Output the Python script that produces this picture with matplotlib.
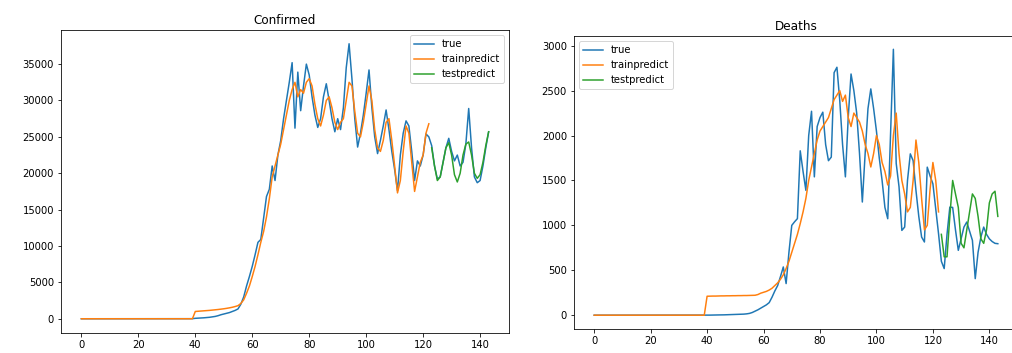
import numpy as np
import matplotlib
matplotlib.use("Agg")
import matplotlib.pyplot as plt

# ---- confirmed ----
conf_true = [0, 0, 1, 0, 0, 0, 1, 0, 0, 0, 0, 1, 0, 0, 0, 0, 0, 0, 0, 0,
             0, 1, 0, 0, 0, 0, 0, 0, 0, 0, 0, 0, 0, 0, 0, 0, 0, 0, 5, 10,
             60, 80, 100, 130, 160, 200, 260, 320, 420, 550,
             650, 750, 850, 1000, 1150, 1350, 2000, 3000, 4500, 5800,
             7200, 8800, 10500, 10900, 13800, 16800, 17800, 21000, 19000, 22500,
             24500, 27500, 30000, 32500, 35200, 26200, 33900, 28600, 32000, 35000,
             33500, 30500, 28000, 26300, 27500, 30500, 32300, 30000, 27500, 25700,
             27500, 26000, 29000, 34500, 37800, 33000, 27500, 23600, 25500, 28000,
             31000, 34200, 29000, 25000, 22700, 24500, 26500, 28700, 26000, 23000,
             20500, 17600, 22500, 25500, 27200, 26500, 23000, 19000, 21700, 21000,
             22500, 25400, 25000, 23800, 21000, 19200, 19500, 21500, 23500, 24800,
             23000, 21700, 22500, 21000, 21500, 24000, 28900, 23500, 19500, 18700,
             19000, 21000, 23500, 25700]

conf_train = [0] * 40 + [
    1000, 1030, 1060, 1090, 1120, 1150, 1190, 1230, 1270, 1320,
    1370, 1430, 1500, 1580, 1680, 1800, 2100, 2600, 3500, 4500,
    5800, 7200, 8800, 10500, 12000, 14000, 16500, 19500, 21000, 22500,
    24000, 26000, 28000, 30000, 31500, 32500, 30500, 31500, 31000, 32500,
    33000, 32000, 29500, 27500, 26500, 28000, 30000, 30500, 29000, 27000,
    26000, 27000, 27500, 30000, 32500, 32000, 28500, 25500, 25000, 27000,
    29500, 32000, 30000, 26000, 23500, 23000, 24500, 27000, 27500, 24500,
    21000, 17300, 19000, 23000, 26500, 25500, 21500, 17500, 19500, 21500,
    22500, 25500, 26800]

conf_test = [23500, 21000, 19000, 19500, 21500, 23500, 24200, 22500, 19800, 18800,
             20000, 22500, 24000, 24300, 22500, 20000, 19300, 19800, 21500, 23800,
             25700]

# ---- deaths ----
death_true = [0] * 40 + [
    1, 1, 2, 2, 3, 3, 4, 5, 6, 7,                                   # 40-49
    8, 9, 10, 12, 15, 20, 30, 45, 60, 78,                           # 50-59
    95, 115, 140, 200, 270, 330, 430, 537, 352, 700,                # 60-69
    1000, 1040, 1075, 1830, 1600, 1390, 2000, 2270, 1540, 2100,     # 70-79
    2200, 2260, 1900, 1720, 1760, 2700, 2760, 2390, 1900, 1540,     # 80-89
    2200, 2685, 2500, 2250, 1800, 1260, 1800, 2300, 2519, 2300,     # 90-99
    2050, 1750, 1500, 1200, 1074, 2000, 2960, 1690, 1430, 944,      # 100-109
    981, 1500, 1796, 1720, 1389, 1100, 870, 815, 1648, 1550,        # 110-119
    1463, 1185, 907, 600, 519, 900, 1203, 1200, 950, 722,           # 120-129
    850, 981, 1037, 933, 833, 407, 700, 870, 981, 900,              # 130-139
    850, 820, 800, 796]                                             # 140-143

death_train = [0] * 40 + [
    211, 212, 213, 213, 214, 215, 215, 216, 216, 217,
    217, 218, 218, 219, 219, 220, 221, 222, 230, 245,
    255, 265, 280, 300, 330, 360, 400, 450, 520, 600,
    700, 800, 900, 1020, 1150, 1300, 1500, 1650, 1800, 1950,
    2050, 2100, 2150, 2200, 2300, 2400, 2450, 2500, 2380, 2450,
    2200, 2100, 2250, 2200, 2150, 2050, 1900, 1800, 1650, 1800,
    2000, 1900, 1700, 1600, 1450, 1550, 2000, 2250, 1800, 1500,
    1350, 1150, 1200, 1500, 1950, 1700, 1300, 950, 1000, 1400,
    1700, 1500, 1150]

death_test = [900, 650, 650, 1100, 1500, 1350, 1200, 800, 750, 950,
              1150, 1350, 1300, 1100, 850, 800, 950, 1250, 1350, 1380,
              1100]

x_true = np.arange(len(conf_true))
x_train = np.arange(len(conf_train))
x_test = np.arange(len(conf_train), len(conf_train) + len(conf_test))

xd_true = np.arange(len(death_true))
xd_train = np.arange(len(death_train))
xd_test = np.arange(len(death_train), len(death_train) + len(death_test))

fig = plt.figure(figsize=(1012 / 72, 353 / 72), dpi=72)

ax1 = fig.add_axes([61 / 1012, (353 - 332.5) / 353, 448 / 1012, 302.5 / 353])
ax1.plot(x_true, conf_true, label='true')
ax1.plot(x_train, conf_train, label='trainpredict')
ax1.plot(x_test, conf_test, label='testpredict')
ax1.set_title('Confirmed')
ax1.set_xticks(np.arange(0, 141, 20))
ax1.legend(loc='upper right')

# right panel runs past the image edge (cropped like the original)
ax2 = fig.add_axes([574 / 1012, (353 - 328.5) / 353, 444 / 1012, 292.5 / 353])
ax2.plot(xd_true, death_true, label='true')
ax2.plot(xd_train, death_train, label='trainpredict')
ax2.plot(xd_test, death_test, label='testpredict')
ax2.set_title('Deaths')
ax2.set_xticks(np.arange(0, 141, 20))
ax2.legend(loc='upper left')

plt.savefig('out.png', dpi=72)
